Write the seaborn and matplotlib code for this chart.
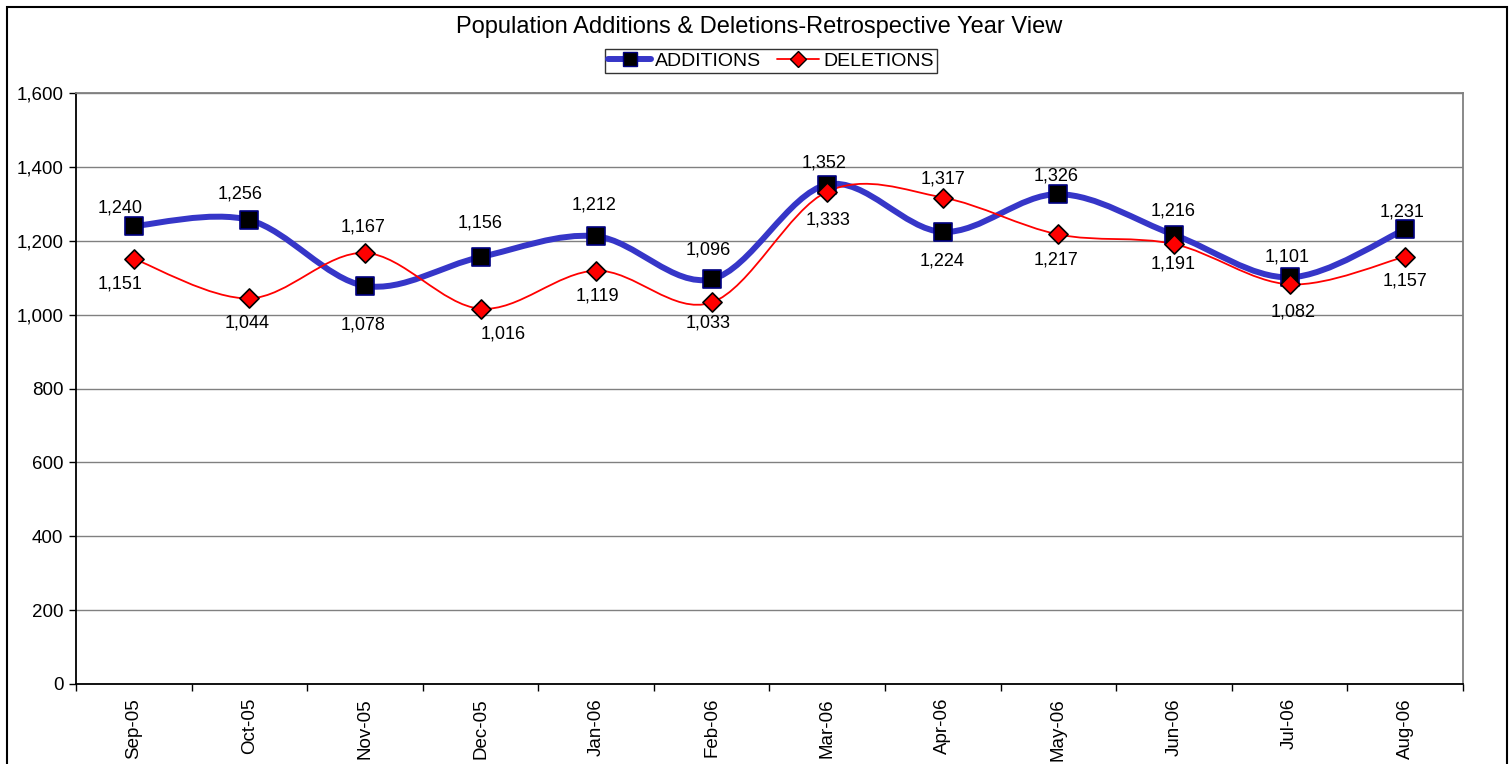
import numpy as np
import pandas as pd
import seaborn as sns
import matplotlib.pyplot as plt
from matplotlib.path import Path
from matplotlib.patches import PathPatch, Rectangle
from matplotlib.lines import Line2D
from matplotlib.ticker import FuncFormatter, FixedLocator

# data
months = ["Sep-05", "Oct-05", "Nov-05", "Dec-05", "Jan-06", "Feb-06",
          "Mar-06", "Apr-06", "May-06", "Jun-06", "Jul-06", "Aug-06"]
additions = [1240, 1256, 1078, 1156, 1212, 1096, 1352, 1224, 1326, 1216, 1101, 1231]
deletions = [1151, 1044, 1167, 1016, 1119, 1033, 1333, 1317, 1217, 1191, 1082, 1157]

# label offsets in pixels (dx, dy), as placed in the original
add_offsets = [(-14, 18), (-9, 26), (-2, -39), (0, 34), (-2, 31), (-3, 29),
               (-3, 22), (-1, -29), (-2, 18), (-1, 24), (-3, 20), (-3, 17)]
del_offsets = [(-14, -25), (-2, -25), (-2, 26), (23, -25), (1, -25), (-4, -21),
               (1, -28), (0, 19), (-2, -26), (-1, -20), (3, -28), (0, -24)]

sns.set_theme(style="white")
plt.rcParams['font.family'] = ['Liberation Sans', 'DejaVu Sans']
plt.rcParams['text.color'] = 'black'
plt.rcParams['xtick.color'] = 'black'
plt.rcParams['ytick.color'] = 'black'
plt.rcParams['xtick.labelcolor'] = 'black'
plt.rcParams['ytick.labelcolor'] = 'black'

df = pd.DataFrame({"month": months, "x": np.arange(len(months)),
                   "ADDITIONS": additions, "DELETIONS": deletions})

fig = plt.figure(figsize=(15.12, 7.64), dpi=100)
ax = fig.add_axes([76 / 1512, 1 - 684 / 764, (1463 - 76) / 1512, (684 - 93) / 764])

blue = "#3636c8"
red = "#ff0000"


def smooth_path(xs, ys):
    # Excel-like smoothed line: cubic bezier through the points
    pts = np.column_stack([xs, ys]).astype(float)
    n = len(pts)
    verts = [pts[0]]
    codes = [Path.MOVETO]
    for i in range(n - 1):
        p0 = pts[i - 1] if i > 0 else pts[i]
        p1 = pts[i]
        p2 = pts[i + 1]
        p3 = pts[i + 2] if i + 2 < n else pts[i + 1]
        verts += [p1 + (p2 - p0) / 6, p2 - (p3 - p1) / 6, p2]
        codes += [Path.CURVE4] * 3
    return Path(verts, codes)


ax.add_patch(PathPatch(smooth_path(df["x"], df["ADDITIONS"]), fill=False,
                       edgecolor=blue, lw=4.3, zorder=3, capstyle="round"))
ax.add_patch(PathPatch(smooth_path(df["x"], df["DELETIONS"]), fill=False,
                       edgecolor=red, lw=1.3, zorder=3))

sns.scatterplot(data=df, x="x", y="ADDITIONS", marker="s", s=150, color="black",
                edgecolor="#000080", linewidth=1.2, ax=ax, zorder=4)
sns.scatterplot(data=df, x="x", y="DELETIONS", marker="D", s=95, color=red,
                edgecolor="black", linewidth=1.2, ax=ax, zorder=5)

for i in range(len(months)):
    ax.annotate(f"{additions[i]:,}", (i, additions[i]), xytext=add_offsets[i],
                textcoords="offset pixels", ha="center", va="center", fontsize=13)
    ax.annotate(f"{deletions[i]:,}", (i, deletions[i]), xytext=del_offsets[i],
                textcoords="offset pixels", ha="center", va="center", fontsize=13)

ax.set_xlim(-0.5, len(months) - 0.5)
ax.set_ylim(0, 1600)
ax.set_yticks(np.arange(0, 1601, 200))
ax.yaxis.set_major_formatter(FuncFormatter(lambda v, p: f"{int(v):,}"))
ax.grid(axis="y", color="#808080", lw=1)
ax.set_axisbelow(True)

ax.set_xticks(df["x"])
ax.set_xticklabels(months, rotation=90, fontsize=13.5)
ax.xaxis.set_minor_locator(FixedLocator(np.arange(-0.5, len(months), 1)))
ax.tick_params(axis="x", which="major", length=0, pad=10)
ax.tick_params(axis="x", which="minor", length=5, width=1, color="black", direction="out", bottom=True)
ax.tick_params(axis="y", length=5, width=1, color="black", direction="out", left=True,
               labelsize=13.5, pad=4)
ax.set_xlabel("")
ax.set_ylabel("")

for s in ["left", "bottom"]:
    ax.spines[s].set_color("black")
    ax.spines[s].set_linewidth(1.3)
for s in ["top", "right"]:
    ax.spines[s].set_color("#808080")
    ax.spines[s].set_linewidth(1.3)

fig.text(759 / 1512, 1 - 27 / 764, "Population Additions & Deletions-Retrospective Year View",
         ha="center", va="center", fontsize=17)

handles = [
    Line2D([], [], color=blue, lw=4.3, marker="s", markersize=10,
           markerfacecolor="black", markeredgecolor="#000080"),
    Line2D([], [], color=red, lw=1.3, marker="D", markersize=8,
           markerfacecolor=red, markeredgecolor="black"),
]
fig.legend(handles, ["ADDITIONS", "DELETIONS"], loc="center",
           bbox_to_anchor=(771 / 1512, 1 - 61 / 764), ncol=2, frameon=True,
           fancybox=False, edgecolor="black", fontsize=14, handlelength=2.2,
           handletextpad=0.2, columnspacing=0.8, borderpad=0.15)

fig.patches.append(Rectangle((7 / 1512, -0.02), 1500 / 1512, 1.02 - 7 / 764,
                             transform=fig.transFigure, fill=False,
                             edgecolor="black", lw=1.5))

fig.savefig("out.png", dpi=100)
